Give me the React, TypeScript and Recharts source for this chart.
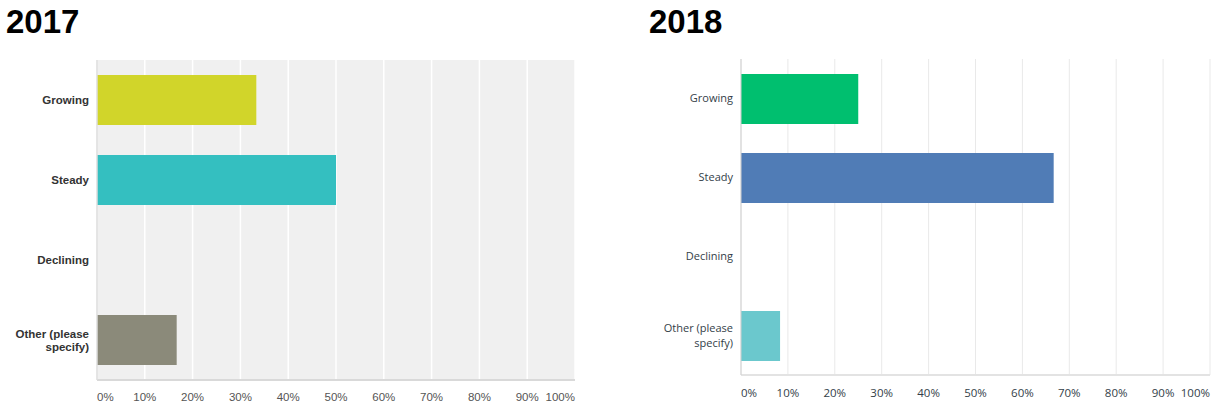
import React from "react";
import { BarChart, Bar, XAxis, YAxis, CartesianGrid, Cell } from "recharts";

const categories = ["Growing", "Steady", "Declining", "Other (please\nspecify)"];
const values2017 = [33.33, 50, 0, 16.67];
const values2018 = [25, 66.67, 0, 8.33];
const colors2017 = ["#d1d52a", "#34bfc0", "#8b8a7a", "#8b8a7a"];
const colors2018 = ["#00bf6f", "#507cb6", "#6bc8cd", "#6bc8cd"];
const pctTicks = [0, 10, 20, 30, 40, 50, 60, 70, 80, 90, 100];

const data2017 = categories.map((name, i) => ({ name, value: values2017[i] }));
const data2018 = categories.map((name, i) => ({ name, value: values2018[i] }));
const barColors2017 = [colors2017[0], colors2017[1], colors2017[2], colors2017[3]];
const barColors2018 = [colors2018[0], colors2018[1], colors2018[2], colors2018[3]];

const makeYTick = (font: string, weight: number, size: number, color: string, lineH: number) =>
  (props: any) => {
    const { x, y, payload } = props;
    const lines = String(payload.value).split("\n");
    const first = -((lines.length - 1) * lineH) / 2 + size * 0.355;
    return (
      <text x={x} y={y} textAnchor="end" fill={color} fontFamily={font} fontWeight={weight} fontSize={size}>
        {lines.map((l, i) => (
          <tspan key={i} x={x} dy={i === 0 ? first : lineH}>
            {l}
          </tspan>
        ))}
      </text>
    );
  };

const makeXTick = (font: string, size: number, color: string, off: number) => (props: any) => {
  const { x, y, payload } = props;
  const v = payload.value;
  const anchor = v === 0 ? "start" : v === 100 ? "end" : "middle";
  return (
    <text x={x} y={y} dy={off} textAnchor={anchor} fill={color} fontFamily={font} fontSize={size}>
      {v + "%"}
    </text>
  );
};

const YTick2017 = makeYTick("'Liberation Sans', Arial, sans-serif", 700, 11.5, "#333333", 13);
const YTick2018 = makeYTick("'Open Sans', sans-serif", 400, 11, "#333e48", 15);
const XTick2017 = makeXTick("'Liberation Sans', Arial, sans-serif", 11.5, "#555555", 21);
const XTick2018 = makeXTick("'Open Sans', sans-serif", 11.5, "#333e48", 22);

const titleStyle: React.CSSProperties = {
  position: "absolute",
  top: 2,
  fontFamily: "'Liberation Sans', Arial, sans-serif",
  fontWeight: 700,
  fontSize: 33,
  color: "#000",
  lineHeight: "40px",
};

export default function App() {
  return (
    <div style={{ position: "absolute", left: 0, top: 0, width: 1214, height: 405, background: "#fff" }}>
      <div style={{ ...titleStyle, left: 6 }}>2017</div>
      <div style={{ ...titleStyle, left: 649 }}>2018</div>
      <div style={{ position: "absolute", left: 0, top: 0 }}>
        <BarChart
          width={600}
          height={405}
          data={data2017}
          layout="vertical"
          margin={{ top: 60, right: 25, bottom: 0, left: 0 }}
        >
          <CartesianGrid horizontal={false} fill="#f0f0f0" stroke="#ffffff" strokeWidth={1.5} />
          <XAxis
            type="number"
            domain={[0, 100]}
            ticks={pctTicks}
            height={25}
            tickLine={false}
            tickSize={0}
            tickMargin={0}
            axisLine={{ stroke: "#d9d9d9", strokeWidth: 2 }}
            tick={<XTick2017 />}
            interval={0}
          />
          <YAxis
            type="category"
            dataKey="name"
            width={97}
            tickLine={false}
            tickSize={6}
            tickMargin={2}
            axisLine={{ stroke: "#dcdcdc", strokeWidth: 1.5 }}
            tick={<YTick2017 />}
            interval={0}
          />
          <Bar dataKey="value" barSize={50} isAnimationActive={false}>
            {data2017.map((d, i) => (
              <Cell key={d.name} fill={barColors2017[i]} />
            ))}
          </Bar>
        </BarChart>
      </div>
      <div style={{ position: "absolute", left: 600, top: 0 }}>
        <BarChart
          width={614}
          height={405}
          data={data2018}
          layout="vertical"
          margin={{ top: 59, right: 4, bottom: 0, left: 0 }}
        >
          <CartesianGrid horizontal={false} stroke="#e9e9e9" strokeWidth={1} />
          <XAxis
            type="number"
            domain={[0, 100]}
            ticks={pctTicks}
            height={30}
            tickLine={false}
            tickSize={0}
            tickMargin={0}
            axisLine={{ stroke: "#e3e3e3", strokeWidth: 2 }}
            tick={<XTick2018 />}
            interval={0}
          />
          <YAxis
            type="category"
            dataKey="name"
            width={141}
            tickLine={false}
            tickSize={6}
            tickMargin={2}
            axisLine={{ stroke: "#d0d0d0", strokeWidth: 1 }}
            tick={<YTick2018 />}
            interval={0}
          />
          <Bar dataKey="value" barSize={50} isAnimationActive={false}>
            {data2018.map((d, i) => (
              <Cell key={d.name} fill={barColors2018[i]} />
            ))}
          </Bar>
        </BarChart>
      </div>
    </div>
  );
}
